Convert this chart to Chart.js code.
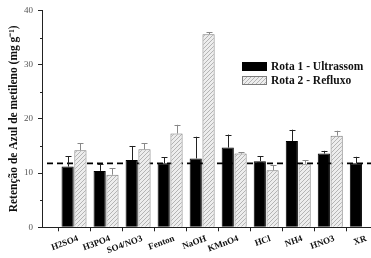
<!DOCTYPE html>
<html><head><meta charset="utf-8">
<script src="https://cdn.jsdelivr.net/npm/chart.js@4.4.0/dist/chart.umd.min.js"></script>
<style>
html,body{margin:0;padding:0;overflow:hidden;background:#fff;width:371px;height:258px}
#wrap{position:absolute;left:0;top:0;width:400px;height:258px}
</style></head><body>
<div id="wrap"><canvas id="c" width="400" height="258"></canvas></div>
<script>
// ---- data ----
const categories = ['H2SO4','H3PO4','SO4/NO3','Fenton','NaOH','KMnO4','HCl','NH4','HNO3','XR'];
const rota1 = [11.2, 10.4, 12.4, 11.8, 12.7, 14.7, 12.2, 15.9, 13.6, 11.8];
const rota1Err = [1.9, 1.2, 2.6, 1.1, 4.0, 2.4, 0.9, 2.1, 0.5, 1.2];
const rota2 = [14.2, 9.7, 14.4, 17.3, 35.6, 13.6, 10.5, 11.7, 16.9, null];
const rota2Err = [1.3, 1.2, 1.1, 1.6, 0.4, 0.2, 1.0, 0.7, 0.9, null];
const seriesNames = ['Rota 1 - Ultrassom', 'Rota 2 - Refluxo'];
const referenceValue = 11.8;
const yTicks = [0, 10, 20, 30, 40];
const yMinorTicks = [5, 15, 25, 35];
const yTitle = 'Retenção de Azul de metileno (mg g⁻¹)';

// padded category list (blank slot before and after)
const labels = [''].concat(categories, ['']);
const pad = arr => [null].concat(arr, [null]);

const SERIF = '"Liberation Serif", "Times New Roman", serif';
const canvas = document.getElementById('c');
const mainCtx = canvas.getContext('2d');

function makeHatch() {
  const t = document.createElement('canvas');
  t.width = 4; t.height = 4;
  const g = t.getContext('2d');
  g.fillStyle = '#ededed'; g.fillRect(0, 0, 4, 4);
  g.strokeStyle = '#b4b4b4'; g.lineWidth = 1;
  g.beginPath();
  g.moveTo(0, 4); g.lineTo(4, 0);
  g.moveTo(-1, 1); g.lineTo(1, -1);
  g.moveTo(3, 5); g.lineTo(5, 3);
  g.stroke();
  return mainCtx.createPattern(t, 'repeat');
}
const hatch = makeHatch();

const refLinePlugin = {
  id: 'refLine',
  beforeDatasetsDraw(chart) {
    const {ctx, chartArea, scales} = chart;
    const y = scales.y.getPixelForValue(referenceValue);
    ctx.save();
    ctx.strokeStyle = '#000';
    ctx.lineWidth = 1.8;
    ctx.setLineDash([6, 4]);
    ctx.beginPath();
    ctx.moveTo(chartArea.left + 5, y);
    ctx.lineTo(chartArea.right, y);
    ctx.stroke();
    ctx.restore();
  }
};

const errorBarPlugin = {
  id: 'errBars',
  afterDatasetsDraw(chart) {
    const {ctx, scales} = chart;
    chart.data.datasets.forEach((ds, di) => {
      const meta = chart.getDatasetMeta(di);
      meta.data.forEach((bar, i) => {
        const v = ds.data[i], e = ds.errors[i];
        if (v == null || e == null) return;
        const yb = scales.y.getPixelForValue(v);
        const yt = scales.y.getPixelForValue(v + e);
        const x = Math.round(bar.x) + 0.5;
        ctx.save();
        ctx.strokeStyle = ds.errColor;
        ctx.lineWidth = 1;
        ctx.beginPath();
        ctx.moveTo(x, yb); ctx.lineTo(x, yt);
        ctx.moveTo(x - 3, Math.round(yt) + 0.5); ctx.lineTo(x + 3, Math.round(yt) + 0.5);
        ctx.stroke();
        ctx.restore();
      });
    });
  }
};

const extrasPlugin = {
  id: 'extras',
  afterDraw(chart) {
    const {ctx, scales, chartArea} = chart;
    ctx.save();
    // minor y ticks
    ctx.strokeStyle = '#222'; ctx.lineWidth = 1;
    ctx.beginPath();
    yMinorTicks.forEach(v => {
      const y = Math.round(scales.y.getPixelForValue(v)) + 0.5;
      ctx.moveTo(chartArea.left - 2, y); ctx.lineTo(chartArea.left, y);
    });
    ctx.stroke();
    // legend
    const lx = 242, ly = [62, 76], bw = 25, bh = 9;
    chart.data.datasets.forEach((ds, i) => {
      ctx.fillStyle = ds.backgroundColor;
      ctx.fillRect(lx, ly[i], bw, bh);
      ctx.strokeStyle = ds.borderColor; ctx.lineWidth = 1;
      ctx.strokeRect(lx + 0.5, ly[i] + 0.5, bw - 1, bh - 1);
      ctx.fillStyle = '#111';
      ctx.font = 'bold 11.5px ' + SERIF;
      ctx.textBaseline = 'middle';
      ctx.textAlign = 'left';
      ctx.fillText(ds.label, lx + bw + 4, ly[i] + bh / 2 + 0.5);
    });
    ctx.restore();
  }
};

new Chart(canvas, {
  type: 'bar',
  data: {
    labels: labels,
    datasets: [
      { label: seriesNames[0], data: pad(rota1), errors: pad(rota1Err), errColor: '#222',
        backgroundColor: '#000', borderColor: '#000', borderWidth: 1 },
      { label: seriesNames[1], data: pad(rota2), errors: pad(rota2Err), errColor: '#888',
        backgroundColor: hatch, borderColor: '#7a7a7a', borderWidth: 1 }
    ]
  },
  options: {
    responsive: false,
    animation: false,
    devicePixelRatio: 1,
    categoryPercentage: 0.8,
    barPercentage: 0.95,
    layout: { padding: { top: 7.3, right: 1.6, left: 0, bottom: 0 } },
    plugins: { legend: { display: false }, tooltip: { enabled: false } },
    scales: {
      x: {
        offset: false,
        grid: { offset: true, drawOnChartArea: false, drawTicks: true, tickLength: 4, color: '#222' },
        border: { color: '#222', width: 1 },
        ticks: { autoSkip: false, minRotation: 20, maxRotation: 20, padding: 2, labelOffset: 4, color: '#111',
                 font: { family: SERIF, size: 9, weight: 'bold' } },
        afterFit(s) { s.height = 30.7; }
      },
      y: {
        min: 0, max: 40,
        afterBuildTicks(s) { s.ticks = yTicks.map(v => ({ value: v })); },
        ticks: { padding: 5, color: '#555', font: { family: SERIF, size: 9 } },
        grid: { drawOnChartArea: false, drawTicks: true, tickLength: 4, color: '#222' },
        border: { color: '#222', width: 1 },
        title: { display: true, text: yTitle, color: '#111', padding: { top: 7, bottom: 0 },
                 font: { family: SERIF, size: 11.5, weight: 'bold' } },
        afterFit(s) { s.width = 42; }
      }
    }
  },
  plugins: [refLinePlugin, errorBarPlugin, extrasPlugin]
});
</script>
</body></html>
